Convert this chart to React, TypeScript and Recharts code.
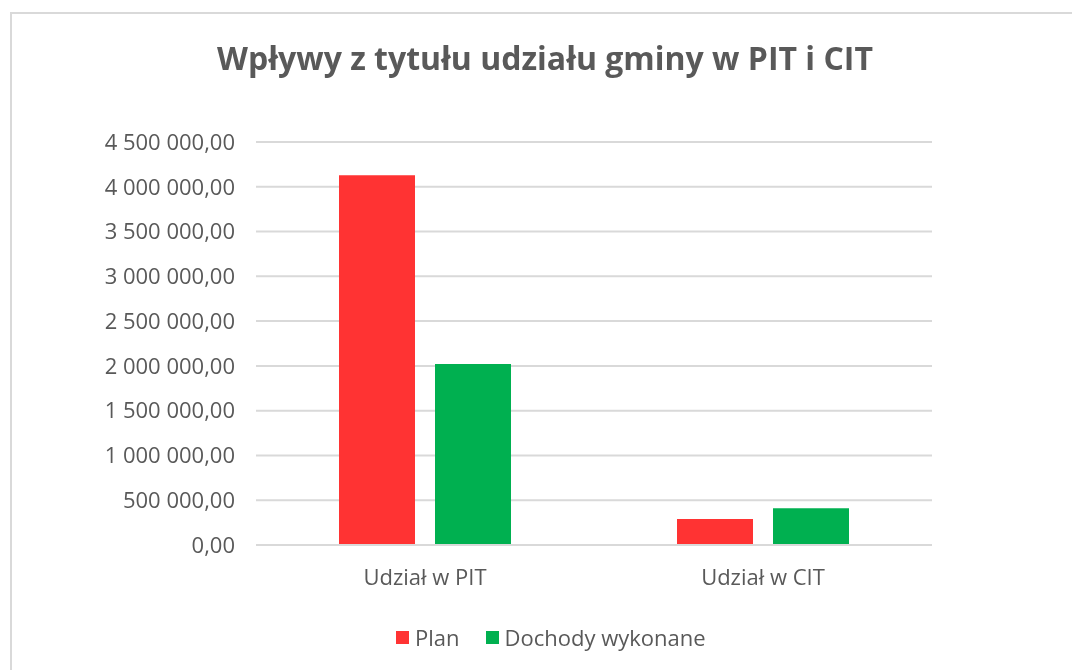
import React from 'react'
import { BarChart, Bar, XAxis, YAxis, CartesianGrid, Legend } from 'recharts'

const categories = ['Udział w PIT', 'Udział w CIT']
const planValues = [4130000, 290000]
const doneValues = [2020000, 410000]
const yTicks = [0, 500000, 1000000, 1500000, 2000000, 2500000, 3000000, 3500000, 4000000, 4500000]
const seriesNames = ['Plan', 'Dochody wykonane']
const title = 'Wpływy z tytułu udziału gminy w PIT i CIT'

const FONT = "'Open Sans', sans-serif"
const TEXT = '#595959'
const RED = '#FF3333'
const GREEN = '#00B050'
const GRID = '#d9d9d9'

const data = categories.map((name, i) => ({
  name,
  plan: planValues[i],
  done: doneValues[i]
}))

// 4 500 000,00 style
const formatPl = (v: number) => {
  const [int, dec] = v.toFixed(2).split('.')
  return int.replace(/\B(?=(\d{3})+(?!\d))/g, ' ') + ',' + dec
}

const LegendContent = () => {
  const items = [
    { label: seriesNames[0], color: RED },
    { label: seriesNames[1], color: GREEN }
  ]
  return (
    <div style={{ display: 'flex', alignItems: 'center', height: 30, fontFamily: FONT, fontSize: 22, color: TEXT }}>
      {items.map((it, i) => (
        <div key={i} style={{ display: 'flex', alignItems: 'center', marginRight: i === 0 ? 26 : 0 }}>
          <div style={{ width: 13, height: 13, background: it.color, marginRight: 6 }} />
          <span>{it.label}</span>
        </div>
      ))}
    </div>
  )
}

const App: React.FC = () => {
  return (
    <div style={{ position: 'relative', width: 1056, height: 662 }}>
      <div
        style={{
          position: 'fixed',
          left: 10,
          top: 12,
          right: -4,
          bottom: -4,
          borderTop: '2px solid #d9d9d9',
          borderLeft: '2px solid #d9d9d9',
          pointerEvents: 'none'
        }}
      />
      <div
        style={{
          position: 'absolute',
          left: 0,
          top: 28,
          width: 1074,
          textAlign: 'center',
          fontFamily: FONT,
          fontWeight: 700,
          fontSize: 32,
          color: TEXT
        }}
      >
        {title}
      </div>
      <div style={{ position: 'absolute', left: 0, top: 0 }}>
        <BarChart
          width={1056}
          height={662}
          data={data}
          margin={{ top: 134, right: 132, bottom: 55, left: 98 }}
          barGap={20}
          barCategoryGap={84}
        >
          <CartesianGrid vertical={false} stroke={GRID} strokeWidth={2} />
          <XAxis
            dataKey="name"
            height={40}
            axisLine={{ stroke: GRID, strokeWidth: 2 }}
            tickLine={false}
            tickSize={0}
            tickMargin={24}
            tick={{ fill: TEXT, fontFamily: FONT, fontSize: 22 }}
          />
          <YAxis
            width={150}
            domain={[0, 4500000]}
            ticks={yTicks}
            interval={0}
            axisLine={false}
            tickLine={false}
            tickSize={0}
            tickMargin={21}
            tickFormatter={formatPl}
            tick={{ fill: TEXT, fontFamily: FONT, fontSize: 22 }}
          />
          <Legend
            content={<LegendContent />}
            wrapperStyle={{ position: 'absolute', left: 388, top: 614, width: 'auto', height: 30 }}
          />
          <Bar dataKey="plan" name={seriesNames[0]} fill={RED} barSize={76} isAnimationActive={false} />
          <Bar dataKey="done" name={seriesNames[1]} fill={GREEN} barSize={76} isAnimationActive={false} />
        </BarChart>
      </div>
    </div>
  )
}

export default App
